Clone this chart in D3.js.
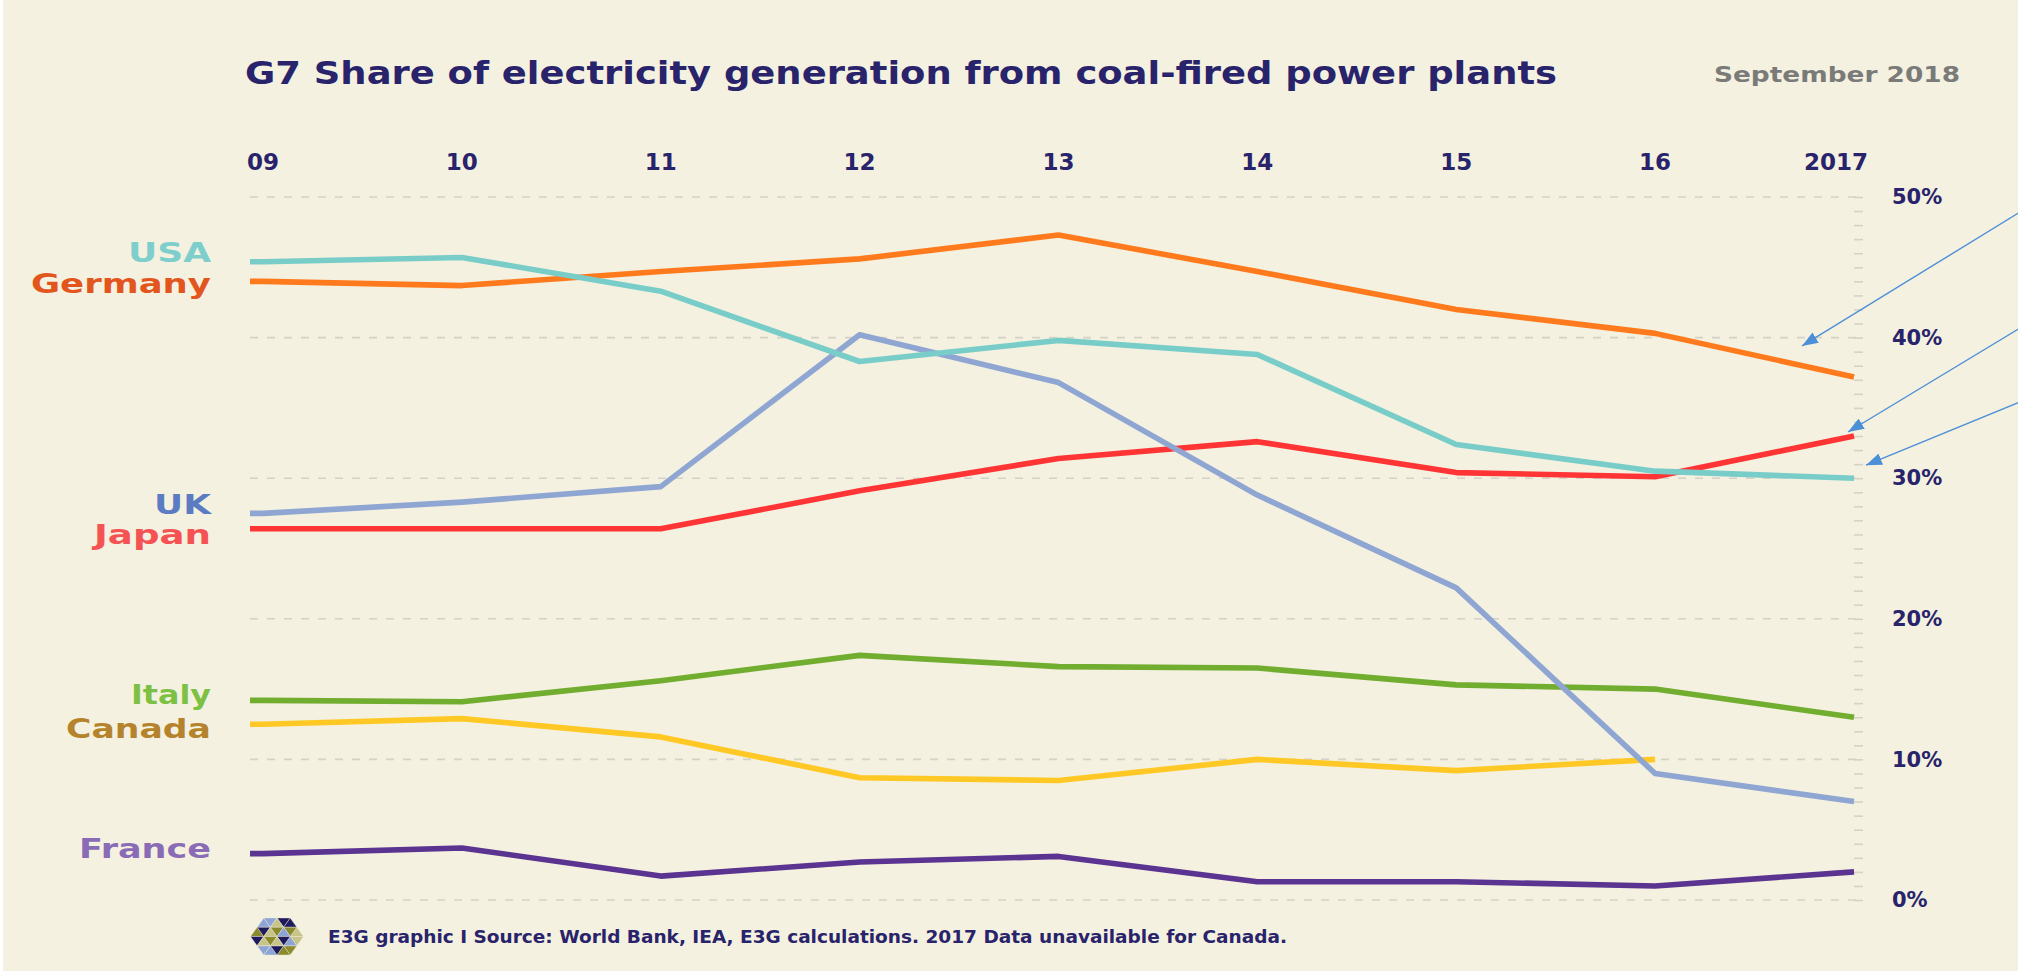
<!DOCTYPE html>
<html>
<head>
<meta charset="utf-8">
<script src="https://cdn.jsdelivr.net/npm/d3@7"></script>
<style>
  html, body { margin: 0; padding: 0; background: #f4f1e0; }
  svg { display: block; }
  text { font-family: "DejaVu Sans", sans-serif; font-weight: bold; }
</style>
</head>
<body>
<svg id="chart" width="2018" height="971"></svg>
<script>
// ---- data: share of electricity generation from coal (%) ----
const years = [2009, 2010, 2011, 2012, 2013, 2014, 2015, 2016, 2017];
const yearLabels = ["09", "10", "11", "12", "13", "14", "15", "16", "2017"];
const countries = ["France", "Canada", "Italy", "Japan", "UK", "Germany", "USA"];

const usa     = [45.4, 45.7, 43.3, 38.3, 39.8, 38.8, 32.4, 30.5, 30.0];
const germany = [44.0, 43.7, 44.7, 45.6, 47.3, 44.7, 42.0, 40.3, 37.2];
const uk      = [27.5, 28.3, 29.4, 40.2, 36.8, 28.8, 22.2, 9.0, 7.0];
const japan   = [26.4, 26.4, 26.4, 29.1, 31.4, 32.6, 30.4, 30.1, 33.0];
const italy   = [14.2, 14.1, 15.6, 17.4, 16.6, 16.5, 15.3, 15.0, 13.0];
const canada  = [12.5, 12.9, 11.6, 8.7, 8.5, 10.0, 9.2, 10.0];   // 2017 not available
const france  = [3.3, 3.7, 1.7, 2.7, 3.1, 1.3, 1.3, 1.0, 2.0];

const shareTicks = [0, 10, 20, 30, 40, 50];
const shareTickLabels = ["0%", "10%", "20%", "30%", "40%", "50%"];

const titleText = "G7 Share of electricity generation from coal-fired power plants";
const dateText = "September 2018";
const sourceText = "E3G graphic I Source: World Bank, IEA, E3G calculations. 2017 Data unavailable for Canada.";

// ---- styling ----
const seriesValues = { USA: usa, Germany: germany, UK: uk, Japan: japan, Italy: italy, Canada: canada, France: france };
const lineColor = { USA: "#79cdc9", Germany: "#ff7a1c", UK: "#8fa6d3", Japan: "#ff3535", Italy: "#71ad2e", Canada: "#ffc825", France: "#5b3391" };
const labelColor = { USA: "#7ecfcc", Germany: "#e2561d", UK: "#5b7cc3", Japan: "#f55353", Italy: "#7cc143", Canada: "#b5832b", France: "#8a6cb6" };
// label box: width and baseline offset from the first value
const labelLayout = {
  USA: { w: 83, dy: 0 }, Germany: { w: 180, dy: 12 }, UK: { w: 57, dy: 1 }, Japan: { w: 117, dy: 15 },
  Italy: { w: 80, dy: 4 }, Canada: { w: 145, dy: 14 }, France: { w: 132, dy: 4.5 }
};

const navy = "#28236b";
const gridColor = "#d4d2c8";
const plotLeft = 250, plotRight = 1863, labelRight = 211;

const svg = d3.select("#chart");
svg.append("rect").attr("width", 2018).attr("height", 971).attr("fill", "#f4f1e0");
svg.append("rect").attr("width", 3).attr("height", 971).attr("fill", "#ffffff");

const x = d3.scaleLinear().domain([2009, 2017]).range([263, 1854]);
const y = d3.scaleLinear().domain([0, 50]).range([900, 197]);

// ---- title ----
svg.append("text").attr("x", 245).attr("y", 84)
  .attr("font-size", 32).attr("fill", navy)
  .attr("textLength", 1312).attr("lengthAdjust", "spacingAndGlyphs")
  .text(titleText);
svg.append("text").attr("x", 1714).attr("y", 82)
  .attr("font-size", 22).attr("fill", "#7a7a78")
  .attr("textLength", 246).attr("lengthAdjust", "spacingAndGlyphs")
  .style("font-weight", "600")
  .text(dateText);

// ---- year labels along the top ----
svg.append("g").selectAll("text").data(years).join("text")
  .attr("x", (d, i) => i === years.length - 1 ? x(d) + 14 : x(d))
  .attr("y", 170)
  .attr("text-anchor", (d, i) => i === years.length - 1 ? "end" : "middle")
  .attr("font-size", 23).attr("fill", navy)
  .text((d, i) => yearLabels[i]);

// ---- gridlines ----
svg.append("g").selectAll("line").data(shareTicks).join("line")
  .attr("x1", plotLeft).attr("x2", plotRight)
  .attr("y1", d => y(d)).attr("y2", d => y(d))
  .attr("stroke", gridColor).attr("stroke-width", 1.6)
  .attr("stroke-dasharray", "8 9");

// ---- right axis: minor ticks every 1% and percent labels ----
const minorAxis = d3.axisRight(y).tickValues(d3.range(0, 51, 1)).tickSize(9).tickFormat("");
const minorG = svg.append("g").attr("transform", `translate(${x(2017)},0)`).call(minorAxis);
minorG.select(".domain").remove();
minorG.selectAll("line").attr("stroke", gridColor).attr("stroke-width", 1.6);

const labelAxis = d3.axisRight(y).tickValues(shareTicks).tickSize(0).tickPadding(0)
  .tickFormat((d, i) => shareTickLabels[i]);
const labelG = svg.append("g").attr("transform", "translate(1892,0)").call(labelAxis);
labelG.select(".domain").remove();
labelG.selectAll("text")
  .attr("font-family", "DejaVu Sans, sans-serif").attr("font-weight", "bold")
  .attr("font-size", 21).attr("fill", navy).attr("text-anchor", "start");

// ---- series lines ----
const line = d3.line().x(d => d.px).y(d => y(d.v)).curve(d3.curveLinear);
const linesG = svg.append("g");
countries.forEach(c => {
  const vals = seriesValues[c];
  const pts = [{ px: plotLeft, v: vals[0] }].concat(vals.map((v, i) => ({ px: x(years[i]), v })));
  linesG.append("path").datum(pts)
    .attr("d", line)
    .attr("fill", "none")
    .attr("stroke", lineColor[c])
    .attr("stroke-width", 5.6)
    .attr("stroke-linejoin", "round");
});

// ---- country labels ----
svg.append("g").selectAll("text").data(countries).join("text")
  .attr("x", c => labelRight - labelLayout[c].w)
  .attr("y", c => y(seriesValues[c][0]) + labelLayout[c].dy)
  .attr("font-size", 26)
  .attr("fill", c => labelColor[c])
  .attr("textLength", c => labelLayout[c].w)
  .attr("lengthAdjust", "spacingAndGlyphs")
  .text(c => c);

// ---- callout arrows towards the 2017 values ----
const arrowColor = "#4d8fd7";
svg.append("defs").append("marker")
  .attr("id", "arrowhead").attr("markerUnits", "userSpaceOnUse")
  .attr("viewBox", "0 0 16 12").attr("refX", 16).attr("refY", 6)
  .attr("markerWidth", 16).attr("markerHeight", 12).attr("orient", "auto")
  .append("path").attr("d", "M0,0 L16,6 L0,12 Z").attr("fill", arrowColor);

const callouts = [
  { series: "Germany", dx: -52, dy: -31, fromY: 212 },
  { series: "Japan", dx: -6, dy: -4, fromY: 328 },
  { series: "USA", dx: 12, dy: -13, fromY: 402 }
];
svg.append("g").selectAll("line").data(callouts).join("line")
  .attr("x1", 2020).attr("y1", d => d.fromY)
  .attr("x2", d => x(2017) + d.dx)
  .attr("y2", d => y(seriesValues[d.series][8]) + d.dy)
  .attr("stroke", arrowColor).attr("stroke-width", 1.4)
  .attr("marker-end", "url(#arrowhead)");

// ---- footer: logo and source line ----
const cx = 277, cy = 936.5, hw = 26.5, hh = 18.5;
const hex = [[cx - hw, cy], [cx - hw / 2, cy - hh], [cx + hw / 2, cy - hh], [cx + hw, cy], [cx + hw / 2, cy + hh], [cx - hw / 2, cy + hh]];
const mid = (a, b) => [(a[0] + b[0]) / 2, (a[1] + b[1]) / 2];
const tris = [];
const c0 = [cx, cy];
hex.forEach((p, i) => {
  const q = hex[(i + 1) % 6];
  const m1 = mid(c0, p), m2 = mid(p, q), m3 = mid(q, c0);
  tris.push({ pts: [p, m2, m1], k: 0 }, { pts: [m2, q, m3], k: 1 }, { pts: [m1, m2, m3], k: 2 }, { pts: [c0, m1, m3], k: 3 });
});
const logoColors = ["#8b8a2c", "#8da4d6", "#1e1a5c", "#c7c48a"];
svg.append("g").selectAll("path").data(tris).join("path")
  .attr("d", t => "M" + t.pts.map(p => p.join(",")).join("L") + "Z")
  .attr("fill", (t, i) => logoColors[(t.k + Math.floor(i / 4)) % 4])
  .attr("stroke", "#f4f1e0").attr("stroke-width", 0.4);

svg.append("text").attr("x", 328).attr("y", 943)
  .attr("font-size", 17).attr("fill", navy)
  .attr("textLength", 959).attr("lengthAdjust", "spacingAndGlyphs")
  .text(sourceText);
</script>
</body>
</html>
